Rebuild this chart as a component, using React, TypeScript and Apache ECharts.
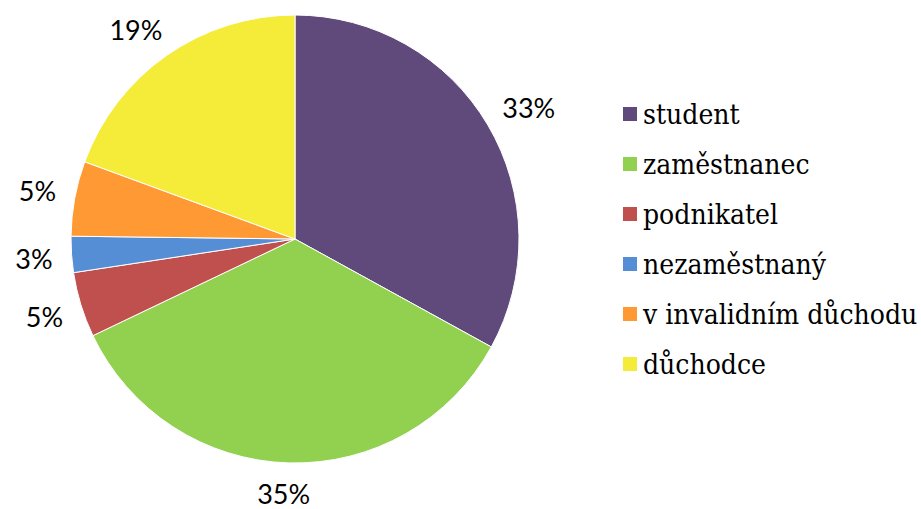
import React, { useEffect, useRef } from "react";
import * as echarts from "echarts";

const categories = ["student", "zaměstnanec", "podnikatel", "nezaměstnaný", "v invalidním důchodu", "důchodce"];
const values = [33.0, 34.9, 4.7, 2.6, 5.4, 19.4];
const colors = ["#604A7B", "#92D050", "#C0504D", "#558ED5", "#FF9933", "#F5EB39"];

const CX = 295;
const CY = 239;
const RADIUS = 224;
const LABEL_R = 243;

export default function App() {
  const ref = useRef<HTMLDivElement>(null);
  useEffect(() => {
    if (!ref.current) return;
    const chart = echarts.init(ref.current, null, { renderer: "svg" });
    const total = values.reduce((a, b) => a + b, 0);
    const mids: number[] = [];
    let acc = 0;
    values.forEach((v) => {
      mids.push(((acc + v / 2) / total) * Math.PI * 2);
      acc += v;
    });
    const soft = (d: number) => Math.sign(d) * Math.sqrt(Math.abs(d));
    chart.setOption({
      animation: false,
      legend: {
        orient: "vertical",
        left: 616,
        top: 95,
        icon: "rect",
        itemWidth: 16,
        itemHeight: 16,
        itemGap: 22,
        textStyle: {
          fontFamily: "'DejaVu Serif Condensed', 'DejaVu Serif', serif",
          fontSize: 28,
          lineHeight: 28,
          color: "#000",
        },
        data: categories,
      },
      series: [
        {
          type: "pie",
          center: [CX, CY],
          radius: RADIUS,
          startAngle: 90,
          clockwise: true,
          avoidLabelOverlap: false,
          data: categories.map((c, i) => ({ name: c, value: values[i], itemStyle: { color: colors[i] } })),
          itemStyle: { borderColor: "#fff", borderWidth: 1 },
          label: {
            show: true,
            position: "outside",
            alignTo: "none",
            overflow: "none",
            formatter: (p: any) => Math.round(p.percent) + "%",
            fontFamily: "Lato, sans-serif",
            fontSize: 27,
            lineHeight: 27,
            color: "#000",
          },
          labelLine: { show: false },
          labelLayout: (params: any) => {
            const a = mids[params.dataIndex];
            const dx = Math.sin(a);
            const dy = -Math.cos(a);
            const hw = params.labelRect.width / 2;
            const hh = (params.labelRect.height / 2) * 0.85;
            return {
              x: CX + dx * LABEL_R + hw * soft(dx),
              y: CY + dy * LABEL_R + hh * soft(dy),
              align: "center",
              verticalAlign: "middle",
              hideOverlap: false,
            };
          },
          emphasis: { disabled: true },
        },
      ],
    });
    return () => chart.dispose();
  }, []);
  return <div ref={ref} style={{ position: "absolute", left: 0, top: 0, width: 921, height: 509, background: "#fff" }} />;
}
